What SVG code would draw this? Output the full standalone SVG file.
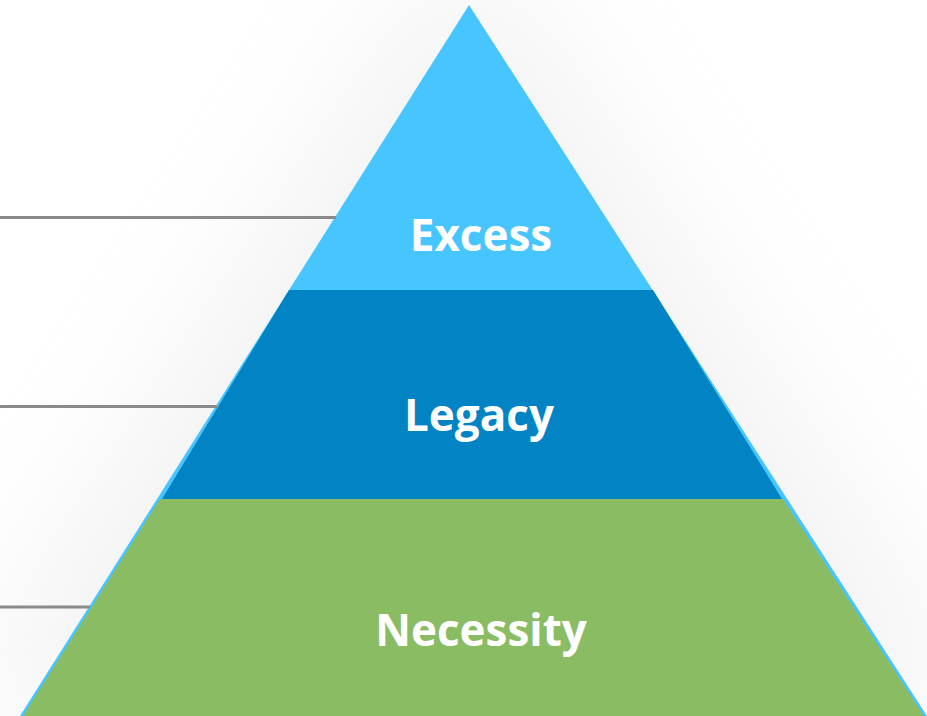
<svg xmlns="http://www.w3.org/2000/svg" width="927" height="716" viewBox="0 0 927 716">
  <style>
    .label { font-family: "Open Sans", "Liberation Sans", sans-serif; font-weight: 700; font-size: 44px; fill: #ffffff; text-anchor: middle; }
    .leader { stroke: #8a8a8a; stroke-width: 3; fill: none; }
  </style>
  <defs>
    <filter id="soft" x="-50%" y="-50%" width="200%" height="200%">
      <feGaussianBlur stdDeviation="70"/>
    </filter>
  </defs>

  <rect width="927" height="716" fill="#ffffff"/>

  <!-- soft haze behind the pyramid -->
  <polygon points="469,-60 -40,716 980,716" fill="#d8d8d8" opacity="0.35" filter="url(#soft)"/>

  <!-- base triangle (top tier colour shows along the edges) -->
  <g id="excess">
    <polygon points="469,5 20,716 927,716" fill="#47c5ff"/>
    <text class="label" x="481" y="251">Excess</text>
  </g>

  <g id="legacy">
    <polygon points="289,290 653,290 782,499 162,499" fill="#0284c4"/>
    <text class="label" x="479" y="431">Legacy</text>
  </g>

  <g id="necessity">
    <polygon points="160,499 783,499 924,716 23,716" fill="#8abd63"/>
    <text class="label" x="481" y="646">Necessity</text>
  </g>

  <!-- leader lines running out to the left -->
  <g id="connectors">
    <line class="leader" x1="0" y1="217.5" x2="336" y2="217.5"/>
    <line class="leader" x1="0" y1="406.5" x2="217" y2="406.5"/>
    <line class="leader" x1="0" y1="607" x2="90" y2="607"/>
  </g>
</svg>
